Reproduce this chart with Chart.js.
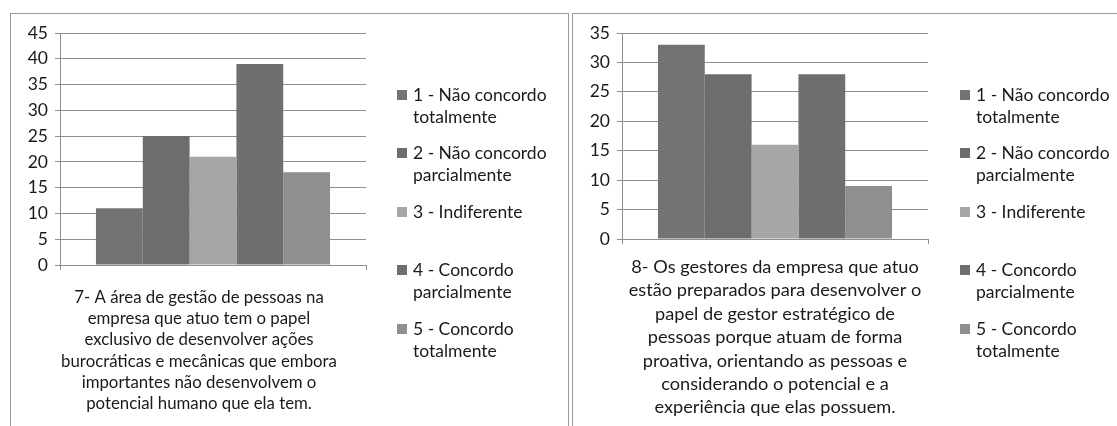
<!DOCTYPE html>
<html>
<head>
<meta charset="utf-8">
<script src="https://cdn.jsdelivr.net/npm/chart.js@4.4.1/dist/chart.umd.min.js"></script>
<style>
    html, body { margin: 0; padding: 0; background: #fff; }
    body { width: 1117px; height: 426px; position: relative; overflow: hidden; font-family: Lato, "Noto Sans", sans-serif; color: #1a1a1a; }
    .panel { position: absolute; top: 13px; height: 440px; border: 1px solid #9a9a9a; }
    #panel7 { left: 10px; width: 557px; }
    #panel8 { left: 572px; width: 600px; }
    canvas { position: absolute; top: 14px; }
    #chart7 { left: 11px; }
    #chart8 { left: 573px; }
    .legend { position: absolute; top: 84px; }
    #legend7 { left: 397px; }
    #legend8 { left: 960px; }
    .legend .item { position: relative; height: 58.4px; padding-left: 16px; width: 145px; font-size: 17.5px; line-height: 22px; }
    .legend .sw { position: absolute; left: 0; top: 6px; width: 10px; height: 10px; }
</style>
</head>
<body>
<div class="panel" id="panel7"></div>
<div class="panel" id="panel8"></div>
<canvas id="chart7" width="557" height="412"></canvas>
<canvas id="chart8" width="544" height="412"></canvas>
<div class="legend" id="legend7"></div>
<div class="legend" id="legend8"></div>
<script>
const answerLabels = [
    "1 - Não concordo totalmente",
    "2 - Não concordo parcialmente",
    "3 - Indiferente",
    "4 - Concordo parcialmente",
    "5 - Concordo totalmente",
];
const q7Values = [11, 25, 21, 39, 18];
const q8Values = [33, 28, 16, 28, 9];

const q7Label = [
    "7- A área de gestão de pessoas na",
    "empresa que atuo tem o papel",
    "exclusivo de desenvolver ações",
    "burocráticas e mecânicas que embora",
    "importantes não desenvolvem o",
    "potencial humano que ela tem.",
];
const q8Label = [
    "8- Os gestores da empresa que atuo",
    "estão preparados para desenvolver o",
    "papel de gestor estratégico de",
    "pessoas porque atuam de forma",
    "proativa, orientando as pessoas e",
    "considerando o potencial e a",
    "experiência que elas possuem.",
];
const q7Ticks = { max: 45, step: 5 };
const q8Ticks = { max: 35, step: 5 };

const barColors = ["#737373", "#6d6d6d", "#a6a6a6", "#6f6f6f", "#8f8f8f"];
const gridColor = "#8e8e8e";
const textColor = "#1a1a1a";
const fontFamily = "Lato, 'Noto Sans', sans-serif";

function buildLegend(chart, elId) {
    const box = document.getElementById(elId);
    chart.data.datasets.forEach((ds) => {
        const item = document.createElement("div");
        item.className = "item";
        const sw = document.createElement("span");
        sw.className = "sw";
        sw.style.background = ds.backgroundColor;
        item.appendChild(sw);
        item.appendChild(document.createTextNode(ds.label));
        box.appendChild(item);
    });
}

function initBarChart(canvasId, legendId, category, values, yTicks, layout) {
    const el = document.getElementById(canvasId);
    if (!el) return;

    const chart = new Chart(el, {
        type: "bar",
        data: {
            labels: [category],
            datasets: answerLabels.map((label, i) => ({
                label: label,
                data: [values[i]],
                backgroundColor: barColors[i],
                borderWidth: 0,
                categoryPercentage: 0.765,
                barPercentage: 1,
            })),
        },
        options: {
            responsive: false,
            animation: false,
            layout: { padding: { left: 0, right: layout.right, top: 19, bottom: 0 } },
            plugins: {
                legend: { display: false },
                tooltip: { enabled: false },
            },
            scales: {
                x: {
                    afterFit: (scale) => { scale.height = layout.xHeight; },
                    grid: {
                        display: true,
                        drawOnChartArea: false,
                        drawTicks: true,
                        tickLength: 5,
                        color: gridColor,
                    },
                    border: { display: true, color: gridColor },
                    ticks: {
                        maxRotation: 0,
                        autoSkip: false,
                        padding: layout.labelPad,
                        labelOffset: layout.labelShift,
                        color: textColor,
                        font: { family: fontFamily, size: layout.fontSize, lineHeight: layout.lineHeight },
                    },
                },
                y: {
                    min: 0,
                    max: yTicks.max,
                    afterFit: (scale) => { scale.width = 49; },
                    grid: { color: gridColor, tickLength: 5 },
                    border: { display: true, color: gridColor },
                    ticks: {
                        stepSize: yTicks.step,
                        padding: 7,
                        color: textColor,
                        font: { family: fontFamily, size: 17.5 },
                    },
                },
            },
        },
    });

    buildLegend(chart, legendId);
}

document.fonts.load("16px Lato").finally(() => {
    initBarChart("chart7", "legend7", q7Label, q7Values, q7Ticks,
        { right: 202, xHeight: 161, labelPad: 17, labelShift: -14, fontSize: 16.8, lineHeight: 1.26 });
    initBarChart("chart8", "legend8", q8Label, q8Values, q8Ticks,
        { right: 189, xHeight: 187, labelPad: 11, labelShift: 0, fontSize: 18.2, lineHeight: 1.29 });
});
</script>
</body>
</html>
